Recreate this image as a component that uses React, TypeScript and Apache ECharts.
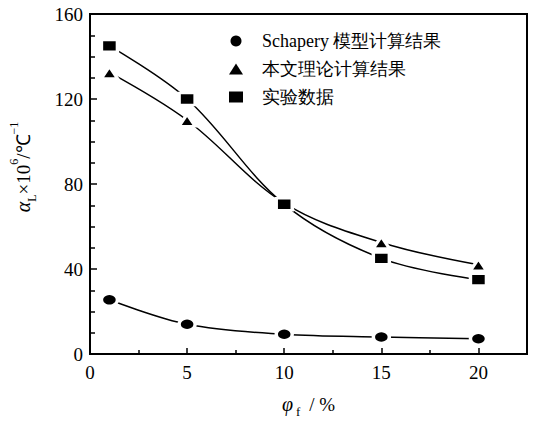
import React, { useEffect, useRef } from "react";
import * as echarts from "echarts";

const xValues = [1, 5, 10, 15, 20];
const schapery = [25.5, 14, 9.3, 8, 7.2];
const theory = [132.5, 110, 71, 52.5, 42];
const experiment = [145, 120, 70.5, 45, 35];
const seriesNames = ["Schapery 模型计算结果", "本文理论计算结果", "实验数据"];

const serif = "Liberation Serif, Times New Roman, serif";

function pairs(ys: number[]) {
  return xValues.map((x, i) => [x, ys[i]]);
}

export default function App() {
  const ref = useRef<HTMLDivElement>(null);
  useEffect(() => {
    if (!ref.current) return;
    const chart = echarts.init(ref.current, null, { renderer: "svg" });
    const symStyle = { color: "#000", borderColor: "#fff", borderWidth: 3 };
    const line = { color: "#000", width: 1.5 };
    chart.setOption({
      animation: false,
      backgroundColor: "#fff",
      textStyle: { fontFamily: serif },
      grid: {
        left: 89,
        top: 14,
        right: 6,
        bottom: 61,
        show: true,
        borderColor: "#000",
        borderWidth: 2,
      },
      legend: {
        orient: "vertical",
        left: 224,
        top: 27,
        itemGap: 10,
        itemWidth: 14,
        itemHeight: 11,
        itemStyle: { borderWidth: 0, color: "#000" },
        textStyle: {
          fontFamily: serif,
          fontSize: 18,
          color: "#000",
          padding: [0, 0, 0, 14],
        },
        data: [
          { name: seriesNames[0], icon: "circle" },
          { name: seriesNames[1], icon: "triangle" },
          { name: seriesNames[2], icon: "rect" },
        ],
      },
      xAxis: {
        type: "value",
        min: 0,
        max: 22.5,
        interval: 5,
        name: "{v|φ}{s|f}{n| / %}",
        nameLocation: "middle",
        nameGap: 36,
        nameTextStyle: {
          rich: {
            v: { fontFamily: serif, fontStyle: "italic", fontSize: 20, color: "#000", lineHeight: 28, verticalAlign: "middle" },
            s: { fontFamily: serif, fontSize: 13, color: "#000", lineHeight: 28, verticalAlign: "bottom", padding: [0, 4, 0, 3] },
            n: { fontFamily: serif, fontSize: 19, color: "#000", lineHeight: 28, verticalAlign: "middle" },
          },
        },
        axisLine: { lineStyle: { color: "#000", width: 2 } },
        axisTick: { inside: true, length: 6, lineStyle: { color: "#000", width: 1.5 } },
        minorTick: { show: true, splitNumber: 2, length: 4, lineStyle: { color: "#000", width: 1.5 } },
        splitLine: { show: false },
        axisLabel: {
          fontFamily: serif,
          fontSize: 19,
          color: "#000",
          margin: 9,
          showMaxLabel: false,
        },
      },
      yAxis: {
        type: "value",
        min: 0,
        max: 160,
        interval: 40,
        name: "{a|α}{sub|L}{n|×10}{sup|6}{n|/℃}{sup|−1}",
        nameLocation: "middle",
        nameGap: 52,
        nameRotate: 90,
        nameTextStyle: {
          padding: [0, 0, 0, 34],
          rich: {
            a: { fontFamily: serif, fontStyle: "italic", fontSize: 20, color: "#000", lineHeight: 30, verticalAlign: "middle" },
            sub: { fontFamily: serif, fontSize: 12, color: "#000", lineHeight: 30, verticalAlign: "bottom" },
            n: { fontFamily: serif, fontSize: 19, color: "#000", lineHeight: 30, verticalAlign: "middle" },
            sup: { fontFamily: serif, fontSize: 12, color: "#000", lineHeight: 30, verticalAlign: "top" },
          },
        },
        axisLine: { lineStyle: { color: "#000", width: 2 } },
        axisTick: { inside: true, length: 7, lineStyle: { color: "#000", width: 1.5 } },
        minorTick: { show: true, splitNumber: 4, length: 5, lineStyle: { color: "#000", width: 1.5 } },
        splitLine: { show: false },
        axisLabel: { fontFamily: serif, fontSize: 19, color: "#000", margin: 7 },
      },
      series: [
        {
          name: seriesNames[0],
          type: "line",
          data: pairs(schapery),
          smooth: 0.35,
          symbol: "circle",
          symbolSize: [16, 12],
          itemStyle: symStyle,
          lineStyle: line,
        },
        {
          name: seriesNames[1],
          type: "line",
          data: pairs(theory),
          smooth: 0.35,
          symbol: "triangle",
          symbolSize: [16, 12],
          itemStyle: symStyle,
          lineStyle: line,
        },
        {
          name: seriesNames[2],
          type: "line",
          data: pairs(experiment),
          smooth: 0.35,
          symbol: "rect",
          symbolSize: [16, 12],
          itemStyle: symStyle,
          lineStyle: line,
        },
      ],
    });
    return () => chart.dispose();
  }, []);
  return (
    <div
      ref={ref}
      style={{ position: "absolute", left: 0, top: 0, width: 533, height: 423 }}
    />
  );
}
